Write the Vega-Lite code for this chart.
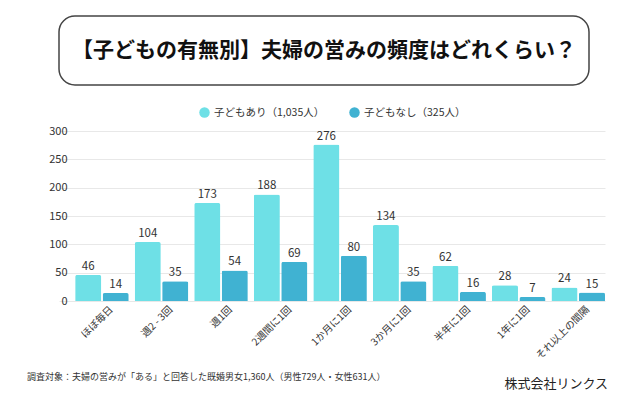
{
  "$schema": "https://vega.github.io/schema/vega-lite/v6.json",
  "padding": {"left": 27, "top": 15, "right": 5, "bottom": 5},
  "background": "white",
  "spacing": 12,
  "config": {
    "font": "Noto Sans CJK JP",
    "view": {"stroke": null},
    "legend": {"layout": {"top": {"anchor": "middle"}}}
  },
  "resolve": {"scale": {"color": "independent", "x": "independent", "y": "independent"}},
  "vconcat": [
    {
      "width": 530,
      "height": 69,
      "view": {"stroke": "#444", "strokeWidth": 1.5, "cornerRadius": 16},
      "data": {"values": [{"title": "【子どもの有無別】夫婦の営みの頻度はどれくらい？"}]},
      "mark": {"type": "text", "fontSize": 21, "fontWeight": "bold", "color": "#111"},
      "encoding": {"text": {"field": "title"}}
    },
    {
      "width": 546,
      "height": 170,
      "data": {
        "values": [
          {"freq": "ほぼ毎日", "group": "子どもあり（1,035人）", "count": 46},
          {"freq": "ほぼ毎日", "group": "子どもなし（325人）", "count": 14},
          {"freq": "週2 - 3回", "group": "子どもあり（1,035人）", "count": 104},
          {"freq": "週2 - 3回", "group": "子どもなし（325人）", "count": 35},
          {"freq": "週1回", "group": "子どもあり（1,035人）", "count": 173},
          {"freq": "週1回", "group": "子どもなし（325人）", "count": 54},
          {"freq": "2週間に1回", "group": "子どもあり（1,035人）", "count": 188},
          {"freq": "2週間に1回", "group": "子どもなし（325人）", "count": 69},
          {"freq": "1か月に1回", "group": "子どもあり（1,035人）", "count": 276},
          {"freq": "1か月に1回", "group": "子どもなし（325人）", "count": 80},
          {"freq": "3か月に1回", "group": "子どもあり（1,035人）", "count": 134},
          {"freq": "3か月に1回", "group": "子どもなし（325人）", "count": 35},
          {"freq": "半年に1回", "group": "子どもあり（1,035人）", "count": 62},
          {"freq": "半年に1回", "group": "子どもなし（325人）", "count": 16},
          {"freq": "1年に1回", "group": "子どもあり（1,035人）", "count": 28},
          {"freq": "1年に1回", "group": "子どもなし（325人）", "count": 7},
          {"freq": "それ以上の間隔", "group": "子どもあり（1,035人）", "count": 24},
          {"freq": "それ以上の間隔", "group": "子どもなし（325人）", "count": 15}
        ]
      },
      "encoding": {
        "x": {
          "field": "freq", "type": "nominal", "sort": null,
          "scale": {"paddingInner": 0.1, "paddingOuter": 0.1356, "align": 1},
          "axis": {"title": null, "labelAngle": -45, "labelFontSize": 10, "labelColor": "#333", "domain": false, "ticks": false, "labelPadding": 3, "labelOffset": 6}
        },
        "xOffset": {"field": "group", "type": "nominal", "sort": null, "scale": {"paddingInner": 0.05}},
        "y": {
          "field": "count", "type": "quantitative",
          "scale": {"domain": [0, 300]},
          "axis": {"title": null, "values": [0, 50, 100, 150, 200, 250, 300], "gridColor": "#e8e8e8", "domain": false, "ticks": false, "labelFontSize": 11, "labelColor": "#333", "labelPadding": -8}
        }
      },
      "layer": [
        {
          "mark": {"type": "bar", "cornerRadiusTopLeft": 2, "cornerRadiusTopRight": 2},
          "encoding": {
            "color": {
              "field": "group", "type": "nominal", "sort": null,
              "scale": {"domain": ["子どもあり（1,035人）", "子どもなし（325人）"], "range": ["#6EE0E6", "#40B2D2"]},
              "legend": {"title": null, "orient": "top", "direction": "horizontal", "symbolType": "circle", "symbolSize": 110, "symbolStrokeWidth": 0, "labelFontSize": 10.5, "labelColor": "#333", "columnPadding": 24, "offset": 4, "padding": 9}
            }
          }
        },
        {
          "mark": {"type": "text", "dy": -8, "fontSize": 11.5, "color": "#333"},
          "encoding": {"text": {"field": "count", "type": "quantitative"}}
        }
      ]
    },
    {
      "width": 549,
      "height": 22,
      "data": {"values": [{"note": "調査対象：夫婦の営みが「ある」と回答した既婚男女1,360人（男性729人・女性631人）", "company": "株式会社リンクス"}]},
      "layer": [
        {
          "mark": {"type": "text", "align": "left", "fontSize": 9, "color": "#333", "dx": -32, "dy": -7},
          "encoding": {
            "x": {"datum": 0, "type": "quantitative", "scale": {"domain": [0, 1]}, "axis": null},
            "text": {"field": "note"}
          }
        },
        {
          "mark": {"type": "text", "align": "right", "fontSize": 13, "color": "#222", "dy": 0},
          "encoding": {
            "x": {"datum": 1, "type": "quantitative", "scale": {"domain": [0, 1]}, "axis": null},
            "text": {"field": "company"}
          }
        }
      ]
    }
  ]
}
